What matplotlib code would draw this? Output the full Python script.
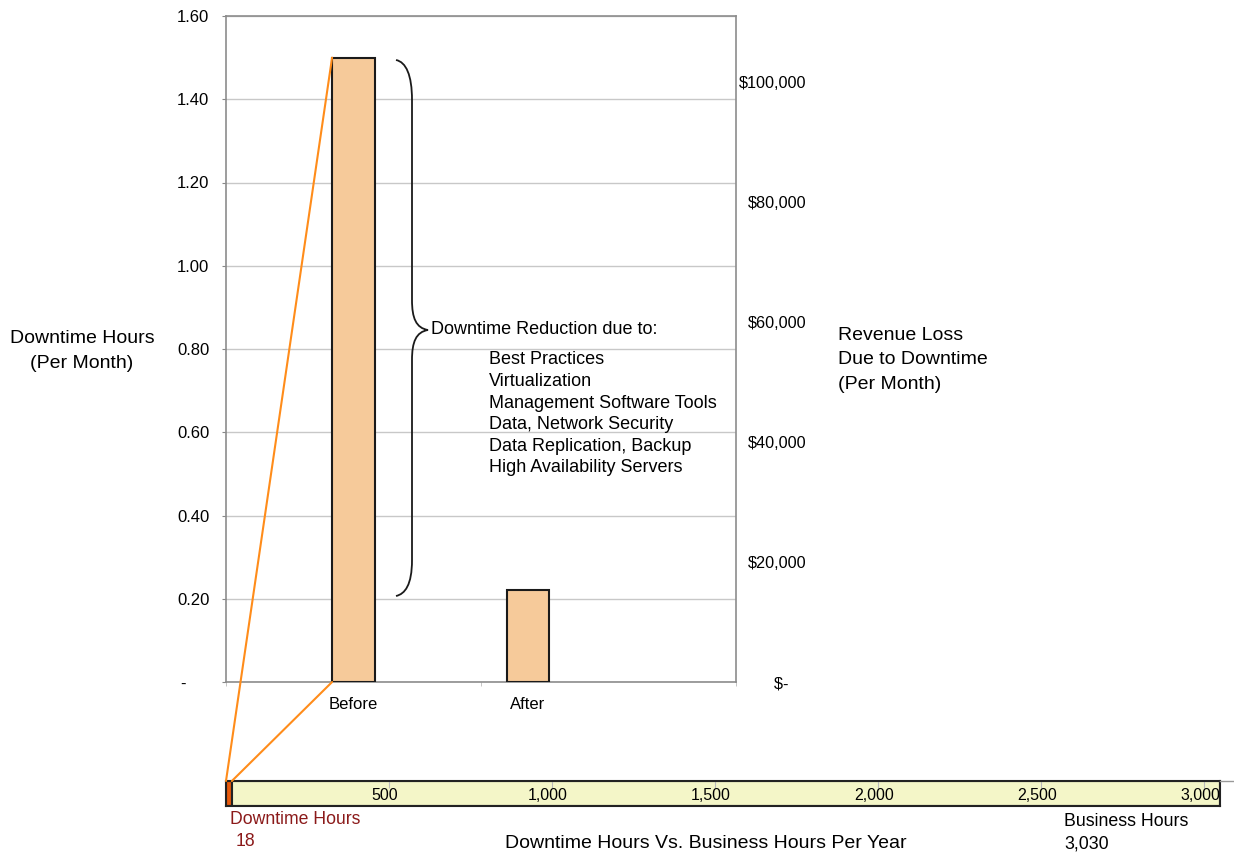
import matplotlib
matplotlib.use('Agg')
import matplotlib.pyplot as plt
from matplotlib.patches import ConnectionPatch, PathPatch
from matplotlib.path import Path
from matplotlib.lines import Line2D
import matplotlib.transforms as mtransforms

plt.rcParams['font.family'] = ['Liberation Sans', 'DejaVu Sans']

# ---------------- data ----------------
categories = ['Before', 'After']
downtime_per_month = [1.50, 0.22]
hour_ticks = [0.0, 0.2, 0.4, 0.6, 0.8, 1.0, 1.2, 1.4, 1.6]
revenue_ticks = [0, 20000, 40000, 60000, 80000, 100000]
revenue_axis_max = 111000
yearly_downtime = 18
yearly_business = 3030
year_ticks = [500, 1000, 1500, 2000, 2500, 3000]
reduction_title = 'Downtime Reduction due to:'
reduction_items = ['Best Practices', 'Virtualization', 'Management Software Tools',
                   'Data, Network Security', 'Data Replication, Backup',
                   'High Availability Servers']

W, H = 1234, 856
fig = plt.figure(figsize=(W / 100, H / 100), dpi=100)


def fx(px):
    return px / W


def fy(py):
    return 1 - py / H


# ---------------- main chart ----------------
ax = fig.add_axes([fx(226), fy(682), 510 / W, 666 / H])
cat_x = list(range(len(categories)))
bar_w = 0.246
ax.bar(cat_x, downtime_per_month, width=bar_w, color='#F6CA9A',
       edgecolor='#1a1a1a', linewidth=1.5, zorder=3)
ax.set_xlim(-0.731, 2.192)
ax.set_ylim(hour_ticks[0], hour_ticks[-1])
ax.set_yticks(hour_ticks)
ax.set_yticklabels(['-     ' if v == 0 else f'{v:.2f}' for v in hour_ticks])
ax.grid(axis='y', color='#C8C8C8', lw=1)
ax.set_axisbelow(True)
ax.set_xticks(cat_x)
ax.set_xticklabels(categories)
ax.set_xticks([-0.731, 0.731, 2.192], minor=True)
ax.tick_params(axis='x', which='major', length=0, pad=11, labelsize=12)
ax.tick_params(axis='x', which='minor', length=3, color='#BBBBBB')
ax.tick_params(axis='y', length=3, color='#888888', pad=9, labelsize=12)
for s in ax.spines.values():
    s.set_color('#8C8C8C')
    s.set_linewidth(1.2)

ax2 = ax.twinx()
ax2.set_ylim(0, revenue_axis_max)
ax2.set_yticks(revenue_ticks)
ax2.set_yticklabels(['$-    ' if v == 0 else f'${v:,.0f}' for v in revenue_ticks])
ax2.tick_params(axis='y', length=0, pad=50.5, labelsize=11.7)
for lbl in ax2.get_yticklabels():
    lbl.set_horizontalalignment('right')
for s in ax2.spines.values():
    s.set_visible(False)

# ---------------- yearly bar ----------------
axb = fig.add_axes([fx(226), fy(806), (1220 - 226) / W, 25 / H])
axb.barh(0, yearly_downtime, height=1, color='#E85A0C', edgecolor='#222222', lw=1.5)
axb.barh(0, yearly_business, left=yearly_downtime, height=1, color='#F4F6C8',
         edgecolor='#222222', lw=1.5)
axb.set_xlim(0, yearly_downtime + yearly_business)
axb.set_ylim(-0.5, 0.5)
axb.set_yticks([])
axb.set_xticks(year_ticks)
axb.tick_params(axis='x', direction='in', top=True, bottom=False, labelbottom=False,
                length=5, color='#BBBBBB')
for s in axb.spines.values():
    s.set_color('#222222')
    s.set_linewidth(1.5)
off = mtransforms.offset_copy(axb.transData, fig=fig, x=-4, y=-2, units='dots')
for v in year_ticks:
    axb.text(v, 0, f'{v:,}', transform=off, ha='center', va='center',
             fontsize=11.5, zorder=4)

fig.add_artist(Line2D([fx(1220), fx(1234)], [fy(781), fy(781)], color='#999999', lw=1))

# connection lines
orange = '#FF8C1A'
con1 = ConnectionPatch(xyA=(0, 0.5), coordsA=axb.transData,
                       xyB=(cat_x[0] - bar_w / 2, downtime_per_month[0]), coordsB=ax.transData,
                       color=orange, lw=1.5, zorder=5)
con2 = ConnectionPatch(xyA=(yearly_downtime, 0.5), coordsA=axb.transData,
                       xyB=(cat_x[0] - bar_w / 2, 0), coordsB=ax.transData,
                       color=orange, lw=1.5, zorder=5)
fig.add_artist(con1)
fig.add_artist(con2)

# ---------------- brace ----------------
pts = [(396, 60), (406, 62), (412, 75), (412, 100),
       (412, 300),
       (412, 318), (416, 328), (428, 330),
       (416, 332), (412, 342), (412, 360),
       (412, 560),
       (412, 585), (405, 594), (396, 596)]
codes = [Path.MOVETO, Path.CURVE4, Path.CURVE4, Path.CURVE4,
         Path.LINETO,
         Path.CURVE4, Path.CURVE4, Path.CURVE4,
         Path.CURVE4, Path.CURVE4, Path.CURVE4,
         Path.LINETO,
         Path.CURVE4, Path.CURVE4, Path.CURVE4]
brace = Path([(fx(x), fy(y)) for x, y in pts], codes)
fig.add_artist(PathPatch(brace, transform=fig.transFigure, fill=False,
                         edgecolor='#1a1a1a', lw=1.3))

fig.text(fx(431), fy(329), reduction_title, ha='left', va='center', fontsize=13)
for i, item in enumerate(reduction_items):
    fig.text(fx(489), fy(360 + i * 21.6), item, ha='left', va='center', fontsize=13)

# ---------------- labels ----------------
fig.text(fx(82), fy(351), 'Downtime Hours\n(Per Month)', ha='center', va='center',
         fontsize=14, linespacing=1.66)
fig.text(fx(838), fy(360), 'Revenue Loss\nDue to Downtime\n(Per Month)', ha='left',
         va='center', fontsize=14, linespacing=1.55)

dark_red = '#8B1A1A'
fig.text(fx(230), fy(819), 'Downtime Hours', ha='left', va='center', fontsize=12.7, color=dark_red)
fig.text(fx(236), fy(841), f'{yearly_downtime}', ha='left', va='center', fontsize=12.7, color=dark_red)
fig.text(fx(1064), fy(822), 'Business Hours', ha='left', va='center', fontsize=12.8)
fig.text(fx(1064), fy(844), f'{yearly_business:,}', ha='left', va='center', fontsize=12.8)
fig.text(fx(706), fy(844), 'Downtime Hours Vs. Business Hours Per Year', ha='center',
         va='center', fontsize=14)

fig.savefig('out.png', dpi=100)
